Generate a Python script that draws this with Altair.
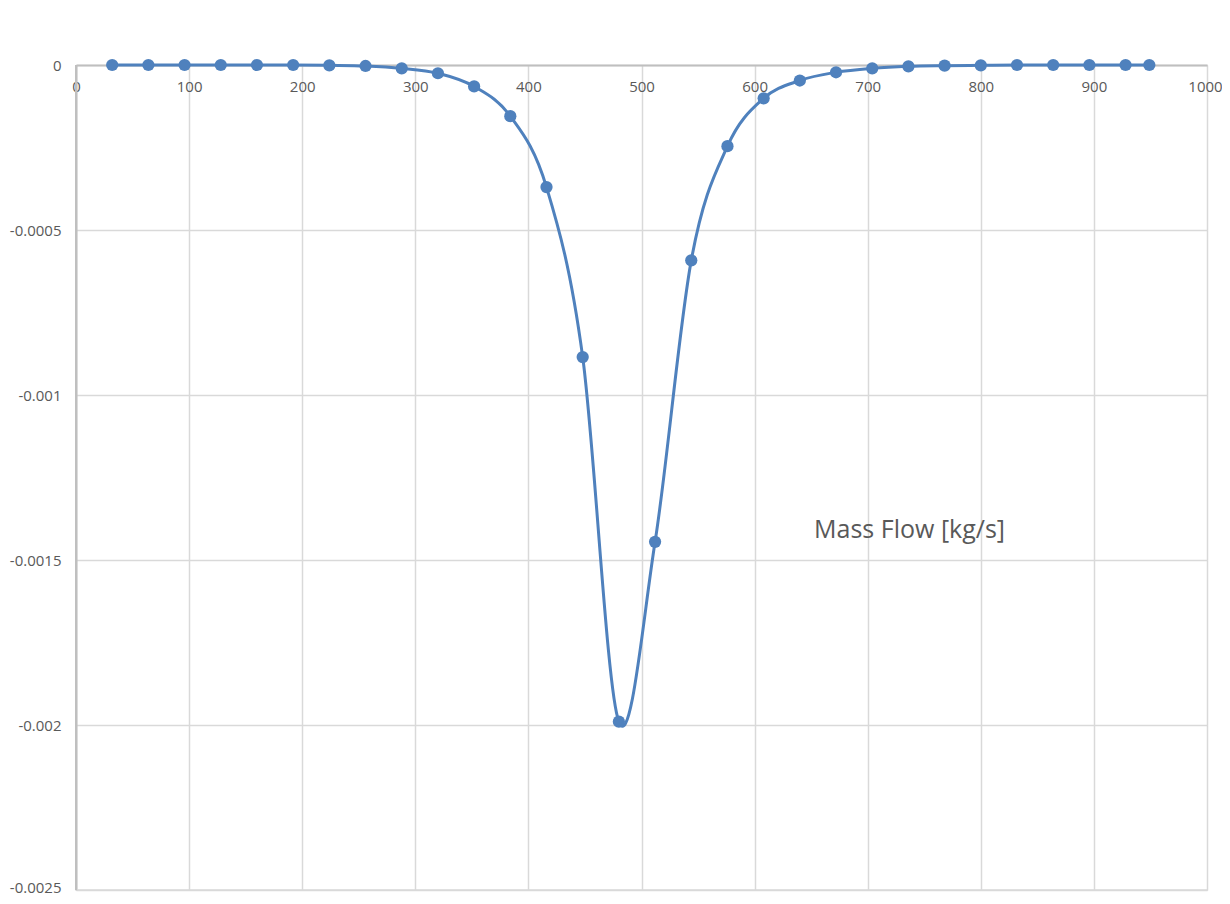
import altair as alt
import pandas as pd

mass_flow = [32, 64, 96, 128, 160, 192, 224, 256, 288, 320, 352, 384, 416, 448,
             480, 512, 544, 576, 608, 640, 672, 704, 736, 768, 800, 832, 864,
             896, 928, 949]
values = [0.0, 0.0, 0.0, 0.0, 0.0, 0.0, -0.000001, -0.000003, -0.000010,
          -0.000025, -0.000065, -0.000155, -0.000370, -0.000885, -0.001990,
          -0.001445, -0.000592, -0.000246, -0.000101, -0.000047, -0.000022,
          -0.000010, -0.000004, -0.000002, -0.000001, 0.0, 0.0, 0.0, 0.0, 0.0]

x_ticks = [0, 100, 200, 300, 400, 500, 600, 700, 800, 900, 1000]
y_ticks = [0, -0.0005, -0.001, -0.0015, -0.002, -0.0025]

annotation_text = ["Mass Flow [kg/s]"]
annotation_x = [737]
annotation_y = [-0.00141]

df = pd.DataFrame({"x": mass_flow, "y": values})
ann = pd.DataFrame({"t": annotation_text, "x": annotation_x, "y": annotation_y})

LABEL = "#595959"
GRID = "#D9D9D9"
DOMAIN = "#BFBFBF"
BLUE = "#4F81BD"
FONT = "Open Sans"

W, H = 1131, 825

x_scale = alt.Scale(domain=[0, 1000], nice=False, zero=False)
y_scale = alt.Scale(domain=[-0.0025, 0], nice=False)

x_enc = alt.X("x:Q", scale=x_scale, axis=alt.Axis(
    values=x_ticks, format="d", offset=-H, orient="bottom", title=None,
    grid=True, gridColor=GRID, gridWidth=1.5, domainColor=DOMAIN, domainWidth=2,
    ticks=False, labelPadding=14, labelColor=LABEL, labelFont=FONT, labelFontSize=15,
    labelFlush=False,
    labelOffset={"condition": {"test": "datum.value == 1000", "value": -2}, "value": 0}))
y_enc = alt.Y("y:Q", scale=y_scale, axis=alt.Axis(
    values=y_ticks, labelExpr="'' + datum.value", title=None,
    grid=True, gridColor=GRID, gridWidth=1.5, domainColor=DOMAIN, domainWidth=2,
    ticks=False, labelPadding=15, labelColor=LABEL, labelFont=FONT, labelFontSize=15,
    labelOffset={"condition": {"test": "datum.value < -0.0024", "value": -3}, "value": 0}))

bottom_rule = alt.Chart(pd.DataFrame({"y": [y_ticks[-1]]})).mark_rule(
    color=GRID, strokeWidth=1.5).encode(y=alt.Y("y:Q", scale=y_scale))
left_rule = alt.Chart(pd.DataFrame({"x": [x_ticks[0]]})).mark_rule(
    color=DOMAIN, strokeWidth=2).encode(x=alt.X("x:Q", scale=x_scale))

line = alt.Chart(df).mark_line(interpolate="cardinal", color=BLUE, strokeWidth=3).encode(
    x=x_enc, y=y_enc)
points = alt.Chart(df).mark_circle(color=BLUE, size=150, opacity=1).encode(
    x="x:Q", y="y:Q")
text = alt.Chart(ann).mark_text(font=FONT, fontSize=25, color=LABEL, align="center",
                                baseline="middle").encode(
    x="x:Q", y="y:Q", text="t:N")

chart = alt.layer(line, bottom_rule, left_rule, points, text).properties(
    width=W, height=H,
    autosize=alt.AutoSizeParams(type="none"),
    padding={"left": 68, "top": 57, "right": 15, "bottom": 6},
).configure_view(stroke=None).configure(background="white")

chart.save("out.html", embed_options={"renderer": "svg", "actions": False})
